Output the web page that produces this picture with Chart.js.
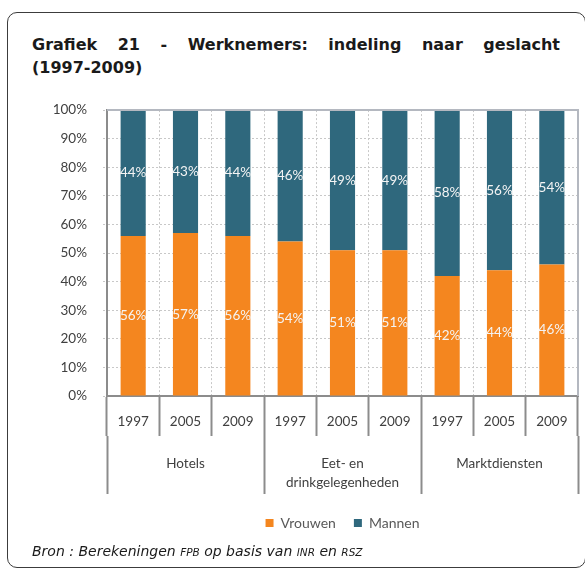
<!DOCTYPE html>
<html>
<head>
<meta charset="utf-8">
<script src="https://cdn.jsdelivr.net/npm/chart.js@4"></script>
<style>
  body { margin: 0; background: #fff; }
  #frame { position: absolute; left: 7px; top: 12px; width: 579px; height: 556px; box-sizing: border-box; border: 1.5px solid #3c3c3c; border-radius: 10px; }
  #title { position: absolute; left: 32px; top: 33px; width: 528px; font: bold 16px "DejaVu Sans"; line-height: 23px; text-align: justify; color: #1a1a1a; }
  #title span { white-space: nowrap; }
  #wrap { position: absolute; left: 0; top: 86px; width: 585px; height: 486px; }
  #source { position: absolute; left: 32px; top: 543px; font: italic 14px "DejaVu Sans"; line-height: 16px; color: #1a1a1a; }
  #source span { font-size: 10.5px; }
</style>
</head>
<body>
<div id="frame"></div>
<div id="title">Grafiek 21 - Werknemers: indeling naar geslacht <span>(1997-2009)</span></div>
<div id="wrap"><canvas id="myChart"></canvas></div>
<div id="source">Bron : Berekeningen <span>FPB</span> op basis van <span>INR</span> en <span>RSZ</span></div>
<script>
const years = ["1997", "2005", "2009", "1997", "2005", "2009", "1997", "2005", "2009"];
const sectors = ["Hotels", ["Eet- en", "drinkgelegenheden"], "Marktdiensten"];
const vrouwen = [56, 57, 56, 54, 51, 51, 42, 44, 46];
const mannen = [44, 43, 44, 46, 49, 49, 58, 56, 54];

const gridColor = "#c8c8c8";
const axisColor = "#8c8c8c";

// labels in the middle of every bar piece
const barLabels = {
  id: "barLabels",
  afterDatasetsDraw(chart) {
    const ctx = chart.ctx;
    ctx.save();
    ctx.font = "13.5px Lato";
    ctx.fillStyle = "#f4f4f4";
    ctx.textAlign = "center";
    ctx.textBaseline = "middle";
    chart.data.datasets.forEach((ds, i) => {
      chart.getDatasetMeta(i).data.forEach((bar, j) => {
        ctx.fillText(ds.data[j] + "%", bar.x, (bar.y + bar.base) / 2);
      });
    });
    ctx.restore();
  },
};

// solid frame on top and right of the plot
const plotFrame = {
  id: "plotFrame",
  afterDraw(chart) {
    const { ctx, chartArea } = chart;
    ctx.save();
    ctx.strokeStyle = "#b4b8c0";
    ctx.lineWidth = 2;
    ctx.beginPath();
    ctx.moveTo(chartArea.left, chartArea.top);
    ctx.lineTo(chartArea.right, chartArea.top);
    ctx.lineTo(chartArea.right, chartArea.bottom);
    ctx.stroke();
    ctx.restore();
  },
};

Chart.defaults.font.family = "Lato";
Chart.defaults.font.size = 14;

const config = {
  type: "bar",
  data: {
    labels: years,
    datasets: [
      { label: "Vrouwen", data: vrouwen, backgroundColor: "#f4861f" },
      { label: "Mannen", data: mannen, backgroundColor: "#2f687d" },
    ],
  },
  options: {
    responsive: true,
    maintainAspectRatio: false,
    animation: false,
    layout: { padding: { left: 47, right: 7, top: 14, bottom: 32 } },
    datasets: { bar: { barPercentage: 0.48, categoryPercentage: 1 } },
    scales: {
      x: {
        stacked: true,
        offset: true,
        grid: {
          offset: true,
          color: gridColor,
          tickColor: axisColor,
          tickLength: 40,
          tickWidth: 2,
          tickBorderDash: [],
        },
        border: { color: axisColor, width: 2, dash: [2, 2] },
        ticks: { color: "#404040", font: { size: 13.5 }, padding: -22, maxRotation: 0, autoSkip: false },
        afterFit(scale) {
          scale.height = 40;
        },
      },
      x2: {
        type: "category",
        labels: sectors,
        position: "bottom",
        offset: true,
        grid: {
          offset: true,
          drawOnChartArea: false,
          tickColor: axisColor,
          tickLength: 58,
          tickWidth: 2,
          tickBorderDash: [],
        },
        border: { display: false },
        ticks: { color: "#404040", font: { size: 13.5, lineHeight: 1.4 }, padding: -40, maxRotation: 0, autoSkip: false },
        afterFit(scale) {
          scale.height = 62;
        },
      },
      y: {
        stacked: true,
        min: 0,
        max: 100,
        grid: { color: gridColor, tickColor: gridColor, tickLength: 4, tickBorderDash: [2, 2] },
        border: { color: axisColor, width: 2, dash: [2, 2] },
        ticks: {
          stepSize: 10,
          padding: 16,
          color: "#404040",
          font: { size: 13.5 },
          callback: (v) => v + "%",
        },
        afterFit(scale) {
          scale.width = 60;
        },
      },
    },
    plugins: {
      legend: {
        position: "bottom",
        fullSize: false,
        labels: { boxWidth: 8, boxHeight: 8, padding: 18, color: "#595959", font: { size: 14 } },
      },
      tooltip: { enabled: false },
    },
  },
  plugins: [barLabels, plotFrame],
};

new Chart(document.getElementById("myChart"), config);
</script>
</body>
</html>
